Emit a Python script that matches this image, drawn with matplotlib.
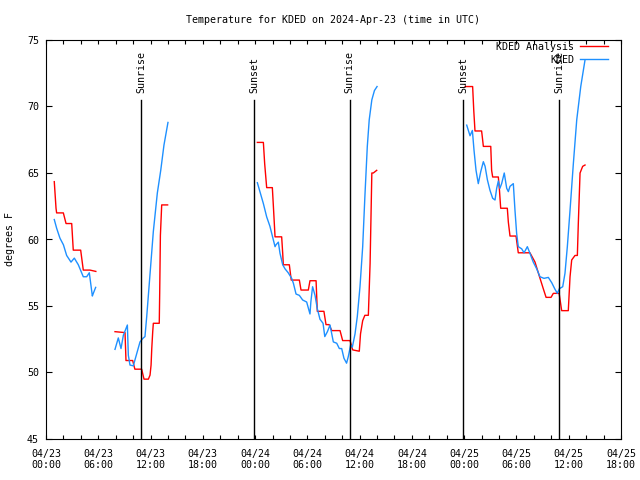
import numpy as np
import matplotlib
matplotlib.use("Agg")
import matplotlib.pyplot as plt
from matplotlib.ticker import MultipleLocator, FixedLocator

# hours since 2024-04-23 00:00 UTC; NaN separates data gaps
red_hours = [0.95, 1.15, 1.22, 1.99, 2.3, 2.95, 3.13, 3.98, 4.28, 5.05, 5.72, np.nan,
             7.92, 9.07, 9.18, 9.95, 10.2, 10.98, 11.25, 11.75, 11.94, 12.06, 12.14, 12.25,
             12.32, 13.0, 13.05, 13.13, 13.28, 13.96, np.nan,
             24.26, 24.95, 25.1, 25.33, 25.98, 26.1, 26.29, 27.05, 27.17, 27.24, 27.93, 28.15,
             29.08, 29.27, 30.11, 30.3, 31.0, 31.14, 31.9, 32.14, 32.5, 32.8, 33.75, 34.05,
             34.9, 35.2, 35.96, 36.1, 36.35, 36.6, 37.0, 37.2, 37.4, 37.57, 37.96, np.nan,
             48.1, 48.97, 49.1, 49.24, 50.0, 50.1, 50.2, 51.05, 51.15, 51.27, 51.92, 52.05,
             52.19, 52.95, 53.07, 53.26, 53.95, 54.21, 55.55, 56.13, 56.6, 57.08, 57.4, 57.97,
             58.23, 58.9, 59.19, 59.95, 60.15, 60.34, 60.72, 60.99, 61.1, 61.3, 61.6, 61.87]
red_temps = [64.35, 62.35, 62.0, 62.0, 61.2, 61.2, 59.2, 59.2, 57.7, 57.7, 57.6, np.nan,
             53.07, 53.0, 50.9, 50.9, 50.25, 50.25, 49.5, 49.5, 49.8, 50.56, 51.8, 53.07,
             53.7, 53.7, 55.95, 60.3, 62.6, 62.6, np.nan,
             67.3, 67.3, 65.7, 63.9, 63.9, 62.5, 60.2, 60.2, 58.96, 58.1, 58.1, 56.95,
             56.95, 56.2, 56.2, 56.9, 56.9, 54.6, 54.6, 53.6, 53.6, 53.15, 53.15, 52.4,
             52.4, 51.7, 51.6, 52.9, 53.9, 54.3, 54.3, 58.2, 65.0, 65.0, 65.2, np.nan,
             71.5, 71.5, 69.7, 68.16, 68.16, 67.6, 67.0, 67.0, 65.2, 64.7, 64.7, 63.7,
             62.35, 62.35, 61.3, 60.26, 60.26, 59.0, 59.0, 58.3, 57.3, 56.3, 55.65, 55.65,
             55.95, 55.95, 54.65, 54.65, 57.2, 58.46, 58.8, 58.8, 61.2, 65.0, 65.5, 65.6]

blue_hours = [0.95, 1.22, 1.6, 2.0, 2.37, 2.87, 3.25, 3.71, 4.28, 4.67, 4.97, 5.13, 5.32,
              5.43, 5.7, np.nan,
              7.92, 8.3, 8.61, 8.88, 9.34, 9.45, 9.64, 10.02, 10.41, 10.79, 11.17, 11.36,
              11.56, 11.86, 12.32, 12.78, 13.17, 13.54, 14.0, np.nan,
              24.26, 24.56, 24.95, 25.33, 25.7, 26.0, 26.29, 26.4, 26.67, 26.86, 27.17, 27.43,
              27.8, 28.2, 28.4, 28.7, 29.08, 29.46, 29.92, 30.3, 30.4, 30.6, 30.88, 31.14,
              31.45, 31.8, 32.0, 32.3, 32.6, 32.98, 33.37, 33.67, 33.94, 34.2, 34.5, 34.7,
              34.97, 35.16, 35.47, 35.73, 36.04, 36.35, 36.6, 36.88, 37.1, 37.4, 37.7, 38.0, np.nan,
              48.29, 48.48, 48.67, 48.8, 48.94, 49.13, 49.36, 49.62, 49.9, 50.2, 50.4, 50.66,
              50.96, 51.27, 51.54, 51.73, 51.92, 52.1, 52.3, 52.6, 52.88, 53.07, 53.26, 53.64,
              53.83, 54.02, 54.21, 54.6, 54.87, 55.25, 55.55, 55.93, 56.32, 56.7, 57.16, 57.66,
              58.05, 58.42, 58.7, 58.92, 59.31, 59.57, 59.84, 60.15, 60.53, 60.92, 61.38, 61.87]
blue_temps = [61.5, 60.85, 60.1, 59.6, 58.8, 58.3, 58.6, 58.1, 57.2, 57.2, 57.5, 56.7, 55.75,
              55.95, 56.4, np.nan,
              51.74, 52.6, 51.8, 52.8, 53.57, 51.3, 50.56, 50.5, 51.4, 52.3, 52.6, 52.7,
              54.2, 56.7, 60.6, 63.5, 65.2, 67.1, 68.8, np.nan,
              64.27, 63.6, 62.7, 61.7, 61.0, 60.2, 59.46, 59.6, 59.8, 58.96, 58.1, 57.8,
              57.5, 57.08, 56.7, 55.9, 55.8, 55.45, 55.3, 54.4, 55.3, 56.45, 55.8, 54.8,
              54.0, 53.7, 52.7, 53.07, 53.57, 52.3, 52.2, 51.8, 51.8, 51.07, 50.7, 51.2,
              52.07, 51.9, 52.9, 54.2, 56.45, 59.46, 63.2, 67.0, 69.0, 70.5, 71.2, 71.5, np.nan,
              68.6, 68.2, 67.8, 68.0, 68.2, 66.7, 65.2, 64.2, 65.1, 65.85, 65.5, 64.5,
              63.7, 63.1, 62.97, 63.85, 64.4, 63.85, 64.2, 65.0, 63.85, 63.6, 64.0, 64.2,
              62.2, 60.47, 59.46, 59.3, 59.0, 59.46, 58.96, 58.3, 57.8, 57.2, 57.08, 57.15,
              56.75, 56.26, 55.95, 56.3, 56.45, 57.46, 59.46, 62.2, 65.7, 69.0, 71.5, 73.5]

event_hours = [10.95, 23.92, 34.87, 47.9, 58.88]
event_labels = ["Sunrise", "Sunset", "Sunrise", "Sunset", "Sunrise"]
event_top = 70.5

tick_hours = [0, 6, 12, 18, 24, 30, 36, 42, 48, 54, 60, 66]
tick_labels = ["04/23\n00:00", "04/23\n06:00", "04/23\n12:00", "04/23\n18:00",
               "04/24\n00:00", "04/24\n06:00", "04/24\n12:00", "04/24\n18:00",
               "04/25\n00:00", "04/25\n06:00", "04/25\n12:00", "04/25\n18:00"]

FONT = "DejaVu Sans Mono"
FS = 7.2
plt.rcParams["font.family"] = FONT

fig = plt.figure(figsize=(6.4, 4.8), dpi=100)
ax = fig.add_axes([46 / 640, 1 - 439 / 480, 575 / 640, 399 / 480])

ax.plot(red_hours, red_temps, color="#ff0000", lw=1.0, label="KDED Analysis")
ax.plot(blue_hours, blue_temps, color="#1e90ff", lw=1.0, label="KDED")

for h, lab in zip(event_hours, event_labels):
    ax.plot([h, h], [45, event_top], color="black", lw=1.0)
    ax.text(h, event_top + 0.55, lab, rotation=90, ha="center", va="bottom",
            fontsize=FS)

ax.set_xlim(0, 66)
ax.set_ylim(45, 75)
ax.xaxis.set_major_locator(FixedLocator(tick_hours))
ax.set_xticklabels(tick_labels)
ax.xaxis.set_minor_locator(MultipleLocator(2))
ax.yaxis.set_major_locator(MultipleLocator(5))
ax.tick_params(axis="both", which="both", direction="in", top=True, right=True,
               labelsize=FS, width=0.8, color="black")
ax.tick_params(axis="x", which="both", length=3, pad=7)
ax.tick_params(axis="y", which="major", length=4, pad=5)
for s in ax.spines.values():
    s.set_linewidth(0.8)

ax.set_ylabel("degrees F", fontsize=FS, labelpad=9)
ax.set_title("Temperature for KDED on 2024-Apr-23 (time in UTC)", fontsize=FS, pad=12)

ax.legend(loc="upper right", bbox_to_anchor=(0.978, 0.995), frameon=False,
          markerfirst=False, fontsize=FS, handlelength=2.8, handletextpad=0.6,
          labelspacing=0.3, borderpad=0, borderaxespad=0)

fig.savefig("out.png", dpi=100)
